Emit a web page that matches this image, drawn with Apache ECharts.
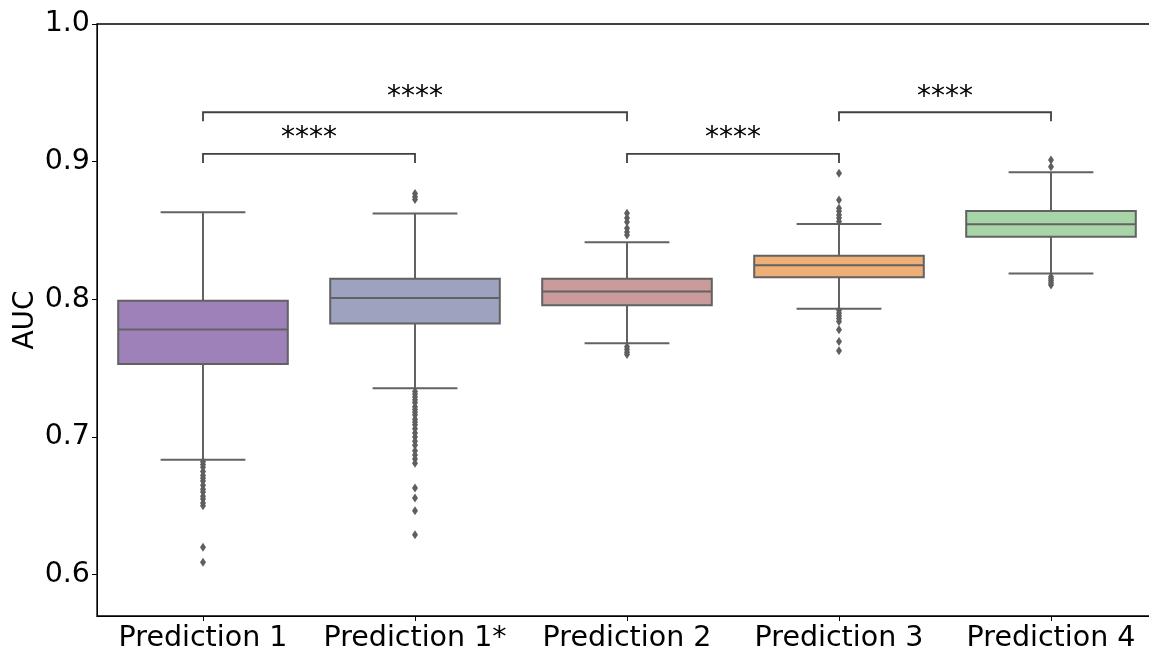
<!DOCTYPE html>
<html>
<head>
<meta charset="utf-8">
<script src="https://cdn.jsdelivr.net/npm/echarts@6/dist/echarts.min.js"></script>
<style>html,body{margin:0;padding:0;background:#fff;}#c{width:1149px;height:649px;}</style>
</head>
<body>
<div id="c"></div>
<script>
const categories = ['Prediction 1', 'Prediction 1*', 'Prediction 2', 'Prediction 3', 'Prediction 4'];
// [min whisker, Q1, median, Q3, max whisker]
const boxStats = [
  [0.6835, 0.7530, 0.7781, 0.7989, 0.8633],
  [0.7355, 0.7824, 0.8009, 0.8149, 0.8623],
  [0.7682, 0.7958, 0.8057, 0.8149, 0.8415],
  [0.7931, 0.8161, 0.8248, 0.8316, 0.8548],
  [0.8187, 0.8454, 0.8546, 0.8642, 0.8923]
];
const outliers = [
  [0.682,0.680,0.678,0.675,0.672,0.670,0.668,0.665,0.662,0.660,0.657,0.655,0.652,0.650,0.620,0.609],
  [0.8768,0.8745,0.8725,0.733,0.731,0.729,0.727,0.725,0.722,0.720,0.718,0.716,0.713,0.711,0.709,0.706,0.703,0.700,0.697,0.694,0.690,0.687,0.684,0.681,0.663,0.6557,0.6465,0.629],
  [0.8626,0.8590,0.8561,0.8517,0.8490,0.8468,0.7655,0.7635,0.7615,0.7600],
  [0.8916,0.8722,0.8662,0.8640,0.8613,0.8590,0.8565,0.7920,0.7900,0.7880,0.7860,0.7840,0.7779,0.7694,0.7626],
  [0.9013,0.8964,0.8165,0.8150,0.8135,0.8118,0.8105]
];
const boxColors = ['#9e81b9', '#9da2bf', '#c99b9b', '#eeaf76', '#a8d5a8'];
// [from category, to category, bracket level, label]
const brackets = [
  [0, 1, 0.9056, '****'],
  [0, 2, 0.9359, '****'],
  [2, 3, 0.9056, '****'],
  [3, 4, 0.9359, '****']
];
const yTicks = [0.6, 0.7, 0.8, 0.9, 1.0];

const FONT = 'DejaVu Sans';
const LINE = '#626262';

const boxData = boxStats.map((s, i) => [i].concat(s));
const outlierData = [];
outliers.forEach((arr, i) => arr.forEach(v => outlierData.push([i, v])));

const chart = echarts.init(document.getElementById('c'), null, {renderer: 'canvas'});
chart.setOption({
  animation: false,
  backgroundColor: '#fff',
  grid: {left: 97, top: 24, height: 592, width: 1060, outerBoundsMode: 'none', containLabel: false,
    show: true, borderColor: '#000', borderWidth: 1.3, backgroundColor: 'transparent'},
  xAxis: {
    type: 'category',
    data: categories,
    boundaryGap: true,
    axisLine: {show: true, lineStyle: {color: '#000', width: 1}},
    axisTick: {show: true, alignWithLabel: true, length: 5, lineStyle: {color: '#000'}},
    axisLabel: {color: '#000', fontFamily: FONT, fontSize: 28.5, margin: 8, interval: 0},
    splitLine: {show: false}
  },
  yAxis: {
    type: 'value',
    min: 0.57,
    max: 1.0,
    name: 'AUC',
    nameLocation: 'middle',
    nameGap: 57,
    nameMoveOverlap: false,
    nameTextStyle: {color: '#000', fontFamily: FONT, fontSize: 28},
    axisLine: {show: true, lineStyle: {color: '#000', width: 1}},
    axisTick: {show: true, length: 5, customValues: yTicks, lineStyle: {color: '#000'}},
    axisLabel: {color: '#000', fontFamily: FONT, fontSize: 28.5, margin: 7, customValues: yTicks,
      formatter: v => v.toFixed(1)},
    splitLine: {show: false}
  },
  series: [
    {
      type: 'custom',
      data: boxData,
      encode: {x: 0, y: [1, 2, 3, 4, 5]},
      z: 2,
      renderItem: function (params, api) {
        const i = api.value(0);
        const band = api.size([1, 0])[0];
        const bh = band * 0.4, ch = band * 0.2;
        const pMin = api.coord([i, api.value(1)]);
        const pQ1 = api.coord([i, api.value(2)]);
        const pMed = api.coord([i, api.value(3)]);
        const pQ3 = api.coord([i, api.value(4)]);
        const pMax = api.coord([i, api.value(5)]);
        const x = pMed[0];
        const ls = {stroke: LINE, lineWidth: 2};
        return {
          type: 'group',
          children: [
            {type: 'line', shape: {x1: x, y1: pQ1[1], x2: x, y2: pMin[1]}, style: ls},
            {type: 'line', shape: {x1: x, y1: pQ3[1], x2: x, y2: pMax[1]}, style: ls},
            {type: 'line', shape: {x1: x - ch, y1: pMin[1], x2: x + ch, y2: pMin[1]}, style: ls},
            {type: 'line', shape: {x1: x - ch, y1: pMax[1], x2: x + ch, y2: pMax[1]}, style: ls},
            {type: 'rect', shape: {x: x - bh, y: pQ3[1], width: 2 * bh, height: pQ1[1] - pQ3[1]},
              style: {fill: boxColors[i], stroke: LINE, lineWidth: 2}},
            {type: 'line', shape: {x1: x - bh, y1: pMed[1], x2: x + bh, y2: pMed[1]}, style: ls}
          ]
        };
      }
    },
    {
      type: 'scatter',
      data: outlierData,
      symbol: 'diamond',
      symbolSize: [6, 9],
      itemStyle: {color: '#5f5f5f', opacity: 1},
      z: 3
    },
    {
      type: 'custom',
      data: brackets.map(b => [b[0], b[1], b[2]]),
      encode: {x: [0, 1], y: 2},
      z: 4,
      renderItem: function (params, api) {
        const a = api.value(0), b = api.value(1), lv = api.value(2);
        const label = brackets[params.dataIndex][3];
        const p1 = api.coord([a, lv]);
        const p2 = api.coord([b, lv]);
        const p1b = api.coord([a, lv - 0.0066]);
        return {
          type: 'group',
          children: [
            {type: 'polyline', shape: {points: [[p1[0], p1b[1]], [p1[0], p1[1]], [p2[0], p2[1]], [p2[0], p1b[1]]]},
              style: {stroke: '#404040', lineWidth: 1.8, fill: null}},
            {type: 'text', x: (p1[0] + p2[0]) / 2, y: p1[1] - 15,
              style: {text: label, fill: '#000', font: '28px "DejaVu Sans"', align: 'center', verticalAlign: 'middle'}}
          ]
        };
      }
    }
  ]
});
</script>
</body>
</html>
